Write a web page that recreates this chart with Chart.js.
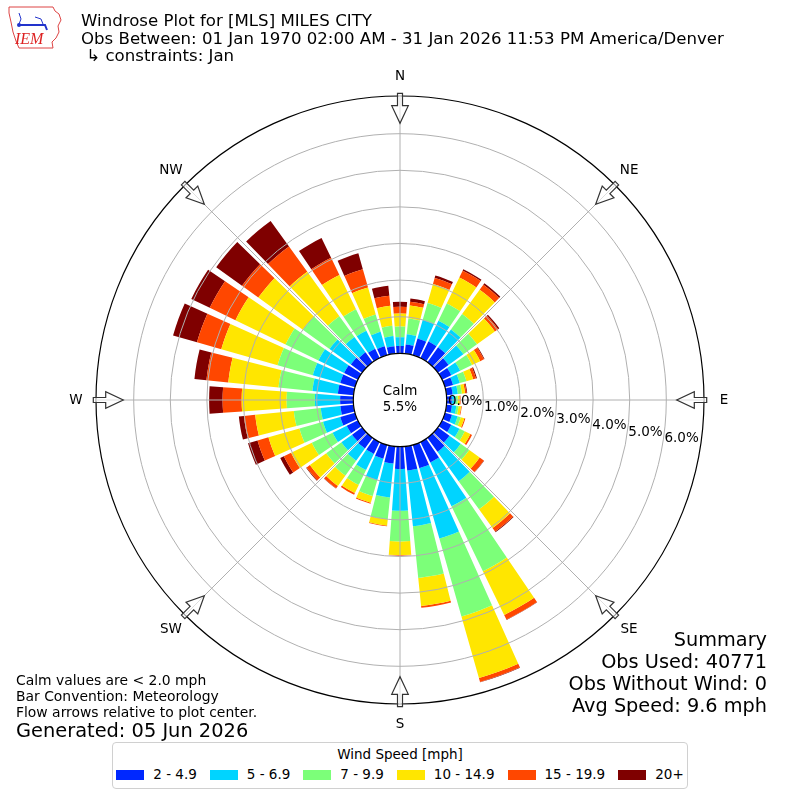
<!DOCTYPE html>
<html>
<head>
<meta charset="utf-8">
<title>Windrose Plot for [MLS] MILES CITY</title>
<script src="https://cdn.jsdelivr.net/npm/chart.js@4.4.1/dist/chart.umd.min.js"></script>
<style>
  html, body { margin: 0; padding: 0; background: #fff; }
  #page { position: relative; width: 800px; height: 800px; font-family: "DejaVu Sans", sans-serif; color: #000; overflow: hidden; }
  #chartBox { position: absolute; left: 0; top: 0; width: 800px; height: 800px; }
  #logo { position: absolute; left: 7px; top: 5px; }
  #title { position: absolute; left: 81px; top: 12px; font-size: 16.6px; line-height: 17.5px; white-space: pre; }
  #notes { position: absolute; left: 16px; top: 672px; font-size: 13.9px; line-height: 16px; }
  #notes .gen { font-size: 19.4px; line-height: 22px; }
  #summary { position: absolute; right: 33px; top: 629px; text-align: right; font-size: 19.3px; line-height: 22px; }
  #legend { position: absolute; left: 112px; top: 742px; width: 574px; height: 45px; border: 1px solid #d0d0d0; border-radius: 4px; font-size: 13.5px; background: #fff; }
  #legend .lt { text-align: center; margin-top: 3px; line-height: 16px; }
  #legend .row { display: flex; justify-content: center; align-items: center; gap: 13px; margin-top: 4px; line-height: 16px; }
  #legend .sw { display: inline-block; width: 28px; height: 10px; margin-right: 9px; vertical-align: middle; }
</style>
</head>
<body>
<div id="page">
  <div id="chartBox"><canvas id="rose"></canvas></div>
  <canvas id="logo" width="58" height="46"></canvas>
  <div id="title"></div>
  <div id="notes"></div>
  <div id="summary"></div>
  <div id="legend"><div class="lt"></div><div class="row"></div></div>
</div>
<script>
// direction bins (degrees the wind blows from), percent of all obs per speed bin
const directions = [0,10,20,30,40,50,60,70,80,90,100,110,120,130,140,150,160,170,
                    180,190,200,210,220,230,240,250,260,270,280,290,300,310,320,330,340,350];
const spd2to5   = [0.20,0.25,0.47,0.50,0.50,0.36,0.28,0.23,0.17,0.14,0.15,0.20,0.28,0.39,0.47,0.62,0.66,0.66,
                   0.61,0.47,0.39,0.36,0.36,0.34,0.34,0.42,0.36,0.36,0.43,0.42,0.42,0.38,0.33,0.28,0.25,0.20];
const spd5to7   = [0.24,0.28,0.53,0.63,0.60,0.50,0.27,0.19,0.14,0.10,0.12,0.16,0.25,0.38,0.99,1.33,2.00,1.53,
                   1.14,0.93,0.61,0.49,0.41,0.36,0.43,0.49,0.54,0.69,0.70,0.78,0.78,0.72,0.52,0.55,0.41,0.28];
const spd7to10  = [0.29,0.43,0.48,0.52,0.52,0.46,0.36,0.19,0.11,0.06,0.06,0.09,0.16,0.29,0.95,1.97,2.21,1.42,
                   0.84,0.60,0.45,0.45,0.50,0.51,0.63,0.67,0.74,0.77,0.93,1.00,1.00,0.90,0.70,0.65,0.49,0.28];
const spd10to15 = [0.36,0.36,0.54,0.79,0.82,0.60,0.25,0.19,0.09,0.05,0.07,0.10,0.17,0.35,0.63,1.33,1.75,0.77,
                   0.37,0.17,0.19,0.25,0.35,0.55,0.63,0.88,1.06,1.23,1.38,1.60,1.52,1.50,1.50,1.04,0.77,0.55];
const spd15to20 = [0.18,0.10,0.17,0.21,0.17,0.11,0.11,0.08,0.04,0.03,0.02,0.03,0.05,0.14,0.12,0.14,0.11,0.05,
                   0.02,0.02,0.03,0.05,0.08,0.11,0.22,0.31,0.31,0.52,0.60,0.69,0.78,0.55,0.85,0.52,0.52,0.28];
const spd20up   = [0.14,0.09,0.07,0.04,0.05,0.04,0.02,0.03,0.02,0.00,0.00,0.00,0.00,0.01,0.02,0.01,0.01,0.00,
                   0.00,0.00,0.00,0.00,0.01,0.02,0.11,0.27,0.14,0.37,0.33,0.68,0.56,0.87,0.86,0.60,0.45,0.27];
const speedLabels = ['2 - 4.9', '5 - 6.9', '7 - 9.9', '10 - 14.9', '15 - 19.9', '20+'];
const speedColors = ['#0028ff', '#00d4ff', '#7cff79', '#ffe600', '#ff4700', '#7f0000'];
const compassLabels = ['N', 'NE', 'E', 'SE', 'S', 'SW', 'W', 'NW'];
const radialTicks = [0, 1, 2, 3, 4, 5, 6];
const calmPct = 5.5;
const rMin = -1.276, rMax = 7.03;

const titleLines = ['Windrose Plot for [MLS] MILES CITY',
  'Obs Between: 01 Jan 1970 02:00 AM - 31 Jan 2026 11:53 PM America/Denver',
  ' \u21b3 constraints: Jan'];
const noteLines = ['Calm values are < 2.0 mph', 'Bar Convention: Meteorology', 'Flow arrows relative to plot center.'];
const generatedLine = 'Generated: 05 Jun 2026';
const summaryLines = ['Summary', 'Obs Used: 40771', 'Obs Without Wind: 0', 'Avg Speed: 9.6 mph'];
const legendTitle = 'Wind Speed [mph]';

const binWidth = 10, barFill = 0.83;

// text blocks
document.getElementById('title').textContent = titleLines.join('\n');
const notes = document.getElementById('notes');
noteLines.forEach(t => { const d = document.createElement('div'); d.textContent = t; notes.appendChild(d); });
const gen = document.createElement('div'); gen.className = 'gen'; gen.textContent = generatedLine; notes.appendChild(gen);
const summ = document.getElementById('summary');
summaryLines.forEach(t => { const d = document.createElement('div'); d.textContent = t; summ.appendChild(d); });
document.querySelector('#legend .lt').textContent = legendTitle;
const row = document.querySelector('#legend .row');
speedLabels.forEach((l, i) => {
  const it = document.createElement('span');
  const sw = document.createElement('span'); sw.className = 'sw'; sw.style.background = speedColors[i];
  it.appendChild(sw); it.appendChild(document.createTextNode(l));
  row.appendChild(it);
});

// little IEM logo
(function () {
  const g = document.getElementById('logo').getContext('2d');
  g.strokeStyle = '#d44'; g.lineWidth = 1;
  g.beginPath();
  [[2,2],[46,2],[48,6],[52,9],[54,15],[51,21],[52,27],[49,33],[45,37],[46,43],[12,43],[9,36],[6,27],[4,17],[2,8]]
    .forEach((p, i) => i ? g.lineTo(p[0], p[1]) : g.moveTo(p[0], p[1]));
  g.closePath(); g.stroke();
  g.strokeStyle = '#2233cc'; g.fillStyle = '#2233cc'; g.lineWidth = 2;
  g.beginPath(); g.moveTo(12, 20); g.lineTo(38, 20); g.lineTo(40, 25); g.stroke();
  g.lineWidth = 1;
  g.beginPath(); g.moveTo(12, 8); g.lineTo(14, 14); g.lineTo(12, 19); g.stroke();
  g.beginPath(); g.moveTo(28, 12); g.lineTo(34, 14); g.lineTo(36, 19); g.stroke();
  g.beginPath(); g.arc(12, 20, 2, 0, Math.PI * 2); g.fill();
  g.fillStyle = '#d22';
  g.font = 'italic 16px "Liberation Serif", serif';
  g.fillText('IEM', 8, 39);
})();

// stacked polar bars built on the polar area controller and its radial scale
class WindroseController extends Chart.PolarAreaController {
  updateElements(arcs, start, count, mode) {
    const scale = this._cachedMeta.rScale;
    const sets = this.chart.data.datasets;
    const half = (binWidth * barFill / 2) * Math.PI / 180;
    for (let i = start; i < start + count; i++) {
      let base = 0;
      for (let k = 0; k < this.index; k++) base += sets[k].data[i];
      const top = base + this.getParsed(i).r;
      const mid = directions[i] * Math.PI / 180 - Math.PI / 2;
      this.updateElement(arcs[i], i, {
        x: scale.xCenter,
        y: scale.yCenter,
        innerRadius: scale.getDistanceFromCenterForValue(base),
        outerRadius: scale.getDistanceFromCenterForValue(top),
        startAngle: mid - half,
        endAngle: mid + half,
        options: this.resolveDataElementOptions(i, mode)
      }, mode);
    }
  }
}
WindroseController.id = 'windrose';
WindroseController.defaults = Chart.PolarAreaController.defaults;
WindroseController.overrides = Chart.PolarAreaController.overrides;
Chart.register(WindroseController);

const roseDecor = {
  id: 'roseDecor',
  afterDraw(chart) {
    const s = chart.scales.r, ctx = chart.ctx;
    const cx = s.xCenter, cy = s.yCenter, R = s.drawingArea;
    ctx.save();
    ctx.font = '13.5px "DejaVu Sans"';
    ctx.textAlign = 'center';
    ctx.textBaseline = 'middle';
    compassLabels.forEach((lab, i) => {
      const a = s.getIndexAngle(i) - Math.PI / 2;
      ctx.save();
      ctx.translate(cx, cy);
      ctx.rotate(a);
      ctx.beginPath();
      ctx.moveTo(R + 2.7, -2.5); ctx.lineTo(R - 9.7, -2.5); ctx.lineTo(R - 9.7, -8.3);
      ctx.lineTo(R - 27.3, 0);
      ctx.lineTo(R - 9.7, 8.3); ctx.lineTo(R - 9.7, 2.5); ctx.lineTo(R + 2.7, 2.5);
      ctx.closePath();
      ctx.fillStyle = 'rgba(255,255,255,0.6)';
      ctx.fill();
      ctx.strokeStyle = '#333';
      ctx.lineWidth = 1.2;
      ctx.stroke();
      ctx.restore();
      const p = s.getPointPosition(i, R + 20);
      ctx.fillStyle = '#000';
      ctx.fillText(lab, p.x, p.y);
    });
    // calm circle
    const r0 = s.getDistanceFromCenterForValue(0);
    ctx.beginPath();
    ctx.arc(cx, cy, r0, 0, Math.PI * 2);
    ctx.fillStyle = '#fff';
    ctx.fill();
    ctx.strokeStyle = '#000';
    ctx.lineWidth = 1.2;
    ctx.stroke();
    ctx.fillStyle = '#000';
    ctx.fillText('Calm', cx, cy - 8.5);
    ctx.fillText(calmPct.toFixed(1) + '%', cx, cy + 7);
    // radial tick labels along a slightly tilted ray
    const tilt = 9.8 * Math.PI / 180;
    ctx.textAlign = 'left';
    radialTicks.forEach(v => {
      const d = s.getDistanceFromCenterForValue(v);
      ctx.fillText(v.toFixed(1) + '%', cx + d * Math.cos(tilt) + 2, cy + 1 + (d - r0) * Math.sin(tilt));
    });
    ctx.restore();
  }
};

Chart.defaults.font.family = '"DejaVu Sans", sans-serif';
const binArrays = [spd2to5, spd5to7, spd7to10, spd10to15, spd15to20, spd20up];

new Chart(document.getElementById('rose'), {
  type: 'windrose',
  data: {
    labels: directions.map(d => d + '\u00b0'),
    datasets: binArrays.map((arr, i) => ({
      label: speedLabels[i],
      data: arr,
      backgroundColor: speedColors[i],
      borderWidth: 0
    }))
  },
  options: {
    responsive: true,
    maintainAspectRatio: false,
    animation: false,
    layout: { padding: 96 },
    plugins: { legend: { display: false }, tooltip: { enabled: false } },
    scales: {
      r: {
        type: 'radialLinear',
        min: rMin,
        max: rMax,
        startAngle: 0,
        labels: compassLabels,
        ticks: { display: false, stepSize: 1, z: 1 },
        pointLabels: { display: false },
        angleLines: { display: true, color: '#b0b0b0', lineWidth: 1 },
        grid: {
          z: 1,
          circular: true,
          color: c => {
            const v = c.tick.value;
            if (v >= rMax - 1e-6) return '#000';
            if (v >= 0 && v <= 6 && Math.abs(v - Math.round(v)) < 1e-6) return '#b0b0b0';
            return 'rgba(0,0,0,0)';
          },
          lineWidth: c => (c.tick.value >= rMax - 1e-6 ? 1.2 : 1)
        }
      }
    }
  },
  plugins: [roseDecor]
});
</script>
</body>
</html>
